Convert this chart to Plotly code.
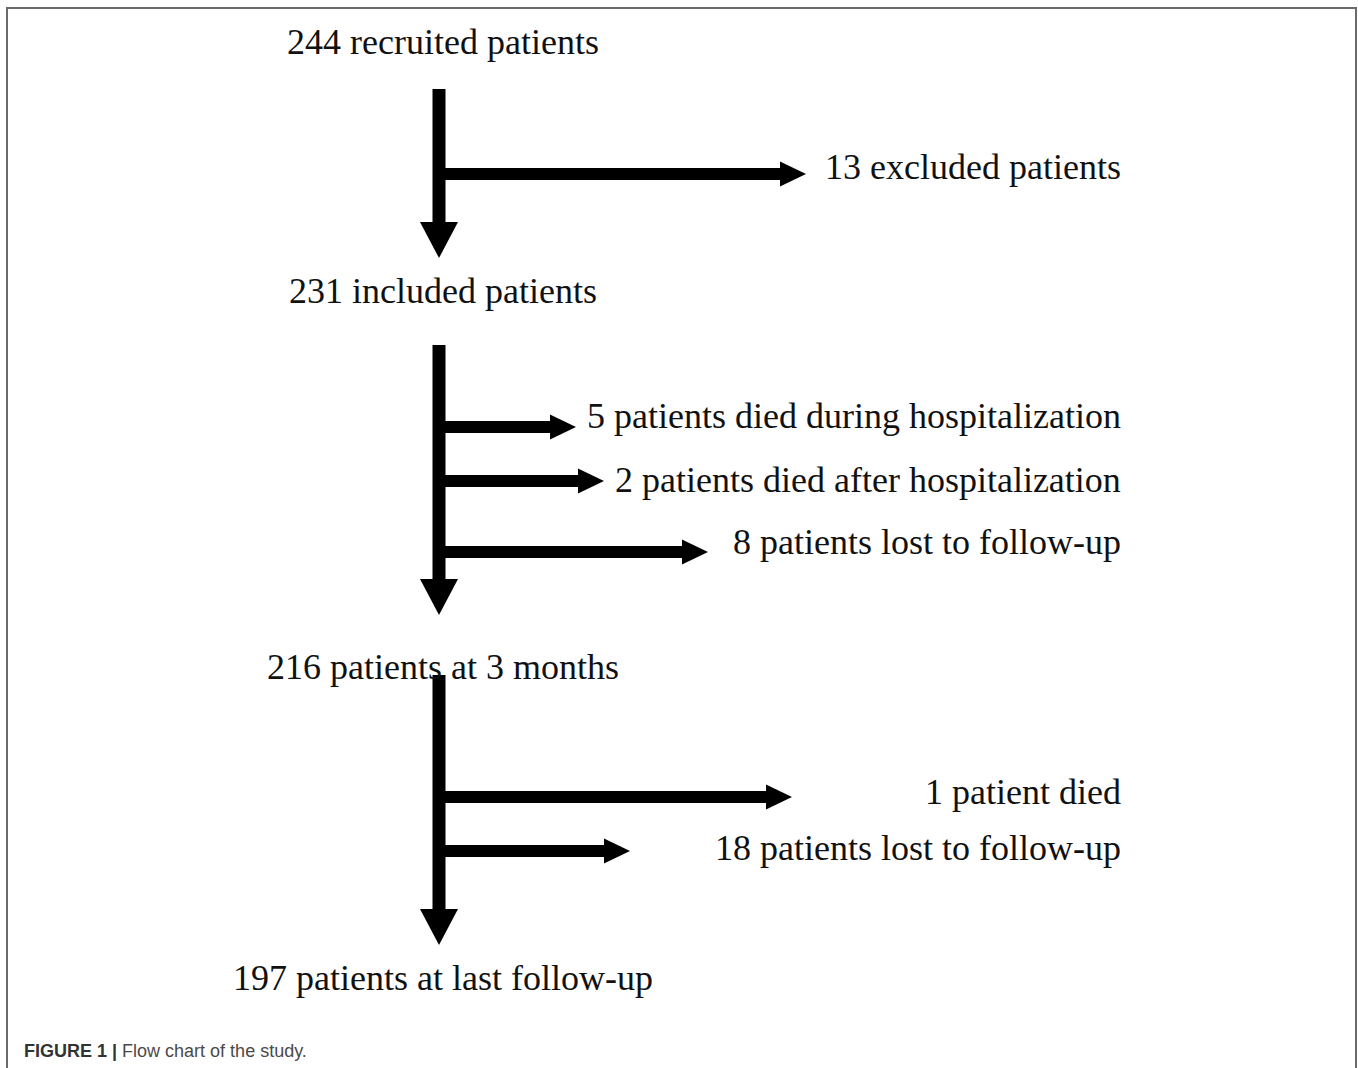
import plotly.graph_objects as go

# ---------------- data ----------------
stage_counts = [244, 231, 216, 197]
stage_texts = ["recruited patients", "included patients",
               "patients at 3 months", "patients at last follow-up"]

exit_counts = [13, 5, 2, 8, 1, 18]
exit_texts = ["excluded patients",
              "patients died during hospitalization",
              "patients died after hospitalization",
              "patients lost to follow-up",
              "patient died",
              "patients lost to follow-up"]
exit_stage = [0, 1, 1, 1, 2, 2]   # which flow step each exit belongs to

caption_bold = "FIGURE 1 |"
caption_text = "Flow chart of the study."

# ---------------- layout (pixel geometry) ----------------
W, H = 1358, 1068
stage_x = 443
stage_y = [42, 291, 667, 978]
trunk_x = 439
trunk_seg = [(89, 258), (345, 615), (675, 945)]       # (top, tip) of each down arrow
exit_y_arrow = [174, 427, 481, 552, 797, 851]
exit_tip_x = [806, 576, 604, 708, 792, 630]
exit_label_y = [167, 416, 480, 542, 792, 848]
label_right = 1123

shaft_v = 13     # vertical shaft thickness
head_v_w, head_v_h = 38, 36
shaft_h = 12
head_h_len, head_h_w = 26, 25

serif = "Liberation Serif, Times New Roman, serif"
ink = "#111111"

fig = go.Figure()
shapes = []
annotations = []

# frame
shapes.append(dict(type="path", xref="x", yref="y",
                   path=f"M 7,{H} L 7,8 L 1356,8 L 1356,{H}",
                   line=dict(color="#6a6a6a", width=2)))

# vertical arrows
for top, tip in trunk_seg:
    base = tip - head_v_h
    shapes.append(dict(type="rect", xref="x", yref="y",
                       x0=trunk_x - shaft_v / 2, x1=trunk_x + shaft_v / 2,
                       y0=top, y1=base + 1, fillcolor="black", line=dict(width=0)))
    shapes.append(dict(type="path", xref="x", yref="y",
                       path=f"M {trunk_x - head_v_w/2},{base} L {trunk_x + head_v_w/2},{base} L {trunk_x},{tip} Z",
                       fillcolor="black", line=dict(width=0)))

# horizontal exit arrows
for ya, tipx in zip(exit_y_arrow, exit_tip_x):
    base = tipx - head_h_len
    shapes.append(dict(type="rect", xref="x", yref="y",
                       x0=trunk_x, x1=base + 1,
                       y0=ya - shaft_h / 2, y1=ya + shaft_h / 2,
                       fillcolor="black", line=dict(width=0)))
    shapes.append(dict(type="path", xref="x", yref="y",
                       path=f"M {base},{ya - head_h_w/2} L {tipx},{ya} L {base},{ya + head_h_w/2} Z",
                       fillcolor="black", line=dict(width=0)))

# stage labels
for n, t, y in zip(stage_counts, stage_texts, stage_y):
    annotations.append(dict(x=stage_x, y=y, xref="x", yref="y",
                            text=f"{n} {t}", showarrow=False,
                            xanchor="center", yanchor="middle",
                            font=dict(family=serif, size=36, color=ink)))

# exit labels
for n, t, y in zip(exit_counts, exit_texts, exit_label_y):
    annotations.append(dict(x=label_right, y=y, xref="x", yref="y",
                            text=f"{n} {t}", showarrow=False,
                            xanchor="right", yanchor="middle",
                            font=dict(family=serif, size=36, color=ink)))

# caption
annotations.append(dict(x=22, y=1051, xref="x", yref="y", showarrow=False,
                        xanchor="left", yanchor="middle",
                        text=f"<b>{caption_bold}</b> <span style='color:#4a4a4a'>{caption_text}</span>",
                        font=dict(family="Liberation Sans, Arial, sans-serif", size=18, color="#333333")))

fig.update_layout(
    width=W, height=H,
    margin=dict(l=0, r=0, t=0, b=0),
    paper_bgcolor="white", plot_bgcolor="white",
    xaxis=dict(range=[0, W], visible=False, fixedrange=True),
    yaxis=dict(range=[H, 0], visible=False, fixedrange=True),
    shapes=shapes, annotations=annotations,
    showlegend=False,
)

fig.write_html("out.html", config={"displayModeBar": False},
               post_script="document.body.style.margin='0';document.body.style.overflow='hidden';")
